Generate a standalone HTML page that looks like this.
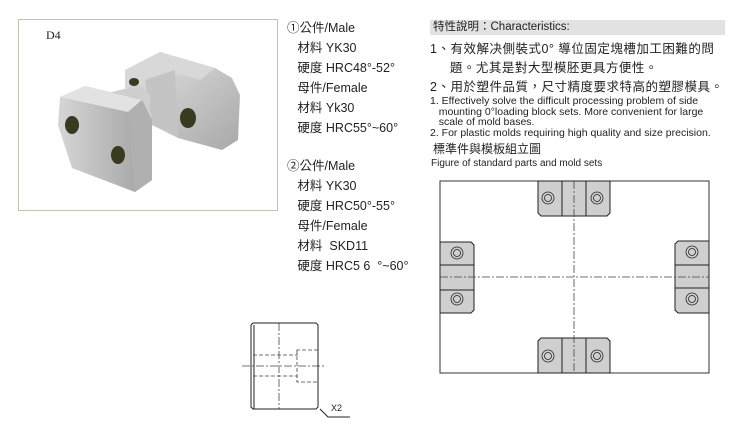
<!DOCTYPE html>
<html><head><meta charset="utf-8"><style>
body{margin:0;width:735px;height:432px;background:#fff;position:relative;overflow:hidden;font-family:"Liberation Sans","Noto Sans CJK TC",sans-serif;color:#222}
.t{position:absolute;white-space:nowrap}
.l{font-size:12.5px;line-height:20px}
</style></head><body>
<div class="t" style="left:18px;top:19px;width:258px;height:190px;border:1px solid #c9bfae"></div>
<div class="t" style="left:46px;top:28px;font-family:'Liberation Serif',serif;font-size:12px">D4</div>
<svg class="t" style="left:0;top:0" width="300" height="220">
<defs><linearGradient id="g" x1="0" y1="0" x2="1" y2="1"><stop offset="0" stop-color="#e4e4e4"/><stop offset="1" stop-color="#a8a8a8"/></linearGradient>
<linearGradient id="g2" x1="0" y1="0" x2="1" y2="0"><stop offset="0" stop-color="#d6d6d6"/><stop offset="1" stop-color="#a0a0a0"/></linearGradient></defs>
<!-- right block -->
<polygon points="125,70 160,52 215,68 232,78 240,95 238,140 222,150 178,138 175,105 150,96 125,88" fill="url(#g)"/>
<polygon points="125,70 160,52 215,68 200,80 180,74 150,85 125,88" fill="#d8d8d8"/>
<polygon points="145,80 175,70 178,138 152,125" fill="#c4c4c4"/>
<!-- bridge -->
<polygon points="100,95 140,85 150,95 150,120 130,112 110,105" fill="#cfcfcf"/>
<!-- left block -->
<polygon points="60,97 85,86 142,100 152,120 152,180 135,192 72,168 58,125" fill="url(#g2)"/>
<polygon points="60,97 85,86 142,100 128,112" fill="#e2e2e2"/>
<polygon points="128,112 142,100 152,120 152,180 135,192" fill="#b0b0b0"/>
<ellipse cx="72" cy="125" rx="7" ry="9" fill="#3a3a20"/>
<ellipse cx="118" cy="155" rx="7" ry="9" fill="#3a3a20"/>
<ellipse cx="188" cy="118" rx="8" ry="10" fill="#3a3a20"/>
<ellipse cx="134" cy="82" rx="5" ry="4" fill="#3a3a20"/>
</svg>
<div class="t l" style="left:287px;top:18px">①公件/Male<br>&nbsp;&nbsp;&nbsp;材料 YK30<br>&nbsp;&nbsp;&nbsp;硬度 HRC48°-52°<br>&nbsp;&nbsp;&nbsp;母件/Female<br>&nbsp;&nbsp;&nbsp;材料 Yk30<br>&nbsp;&nbsp;&nbsp;硬度 HRC55°~60°</div>
<div class="t l" style="left:287px;top:156px">②公件/Male<br>&nbsp;&nbsp;&nbsp;材料 YK30<br>&nbsp;&nbsp;&nbsp;硬度 HRC50°-55°<br>&nbsp;&nbsp;&nbsp;母件/Female<br>&nbsp;&nbsp;&nbsp;材料 &nbsp;SKD11<br>&nbsp;&nbsp;&nbsp;硬度 HRC5 6 &nbsp;°~60°</div>
<div class="t" style="left:430px;top:20px;width:292px;height:15px;background:#e2e2e2;font-size:11.5px;line-height:15px;padding-left:3px">特性說明：Characteristics:</div>
<div class="t" style="left:430px;top:40px;font-size:12.5px;line-height:19px;letter-spacing:0.5px">1、有效解决側裝式0° 導位固定塊槽加工困難的問<br>&nbsp;&nbsp;&nbsp;&nbsp;&nbsp;題。尤其是對大型模胚更具方便性。<br>2、用於塑件品質，尺寸精度要求特高的塑膠模具。</div>
<div class="t" style="left:430px;top:96px;font-size:10.5px;line-height:10.5px">1. Effectively solve the difficult processing problem of side<br>&nbsp;&nbsp;&nbsp;mounting 0°loading block sets. More convenient for large<br>&nbsp;&nbsp;&nbsp;scale of mold bases.<br>2. For plastic molds requiring high quality and size precision.</div>
<div class="t" style="left:433px;top:140px;font-size:12px">標準件與模板組立圖</div>
<div class="t" style="left:431px;top:158px;font-size:10px">Figure of standard parts and mold sets</div>
<svg class="t" style="left:0;top:0" width="735" height="432" fill="none" stroke="#333">
<rect x="440" y="181" width="269" height="192" stroke-width="1"/>
<g fill="#cfcfcf" stroke="#222" stroke-width="1">
<path d="M538,181 H610 V213 l-3,3 H541 l-3,-3 Z"/>
<path d="M538,373 H610 V341 l-3,-3 H541 l-3,3 Z"/>
<path d="M440,242 H471 l3,3 V310 l-3,3 H440 Z"/>
<path d="M709,241 H678 l-3,3 V310 l3,3 H709 Z"/>
</g>
<g stroke="#222" stroke-width="1">
<line x1="562" y1="181" x2="562" y2="216"/><line x1="586" y1="181" x2="586" y2="216"/>
<line x1="562" y1="338" x2="562" y2="373"/><line x1="586" y1="338" x2="586" y2="373"/>
<line x1="440" y1="265" x2="474" y2="265"/><line x1="440" y1="290" x2="474" y2="290"/>
<line x1="675" y1="265" x2="709" y2="265"/><line x1="675" y1="288" x2="709" y2="288"/>
</g>
<g stroke="#222" stroke-width="0.8">
<circle cx="548" cy="198" r="6"/><circle cx="548" cy="198" r="3.5"/>
<circle cx="597" cy="198" r="6"/><circle cx="597" cy="198" r="3.5"/>
<circle cx="548" cy="356" r="6"/><circle cx="548" cy="356" r="3.5"/>
<circle cx="597" cy="356" r="6"/><circle cx="597" cy="356" r="3.5"/>
<circle cx="457" cy="253" r="6"/><circle cx="457" cy="253" r="3.5"/>
<circle cx="457" cy="299" r="6"/><circle cx="457" cy="299" r="3.5"/>
<circle cx="692" cy="252" r="6"/><circle cx="692" cy="252" r="3.5"/>
<circle cx="692" cy="299" r="6"/><circle cx="692" cy="299" r="3.5"/>
</g>
<g stroke="#444" stroke-width="0.8" stroke-dasharray="8,2,2,2">
<line x1="574" y1="181" x2="574" y2="373"/><line x1="440" y1="277" x2="709" y2="277"/>
<line x1="279" y1="323" x2="279" y2="409"/><line x1="242" y1="366" x2="325" y2="366"/>
</g>
<g stroke="#222" stroke-width="1">
<path d="M253,323 H316 l2,2 V407 l-2,2 H253 l-2,-2 V325 Z"/>
<line x1="254" y1="325" x2="254" y2="409"/>
<path d="M320,409 l8,8 H350"/>
</g>
<g stroke="#444" stroke-width="0.8" stroke-dasharray="4,2">
<path d="M253,355 H297 V350 H318"/><path d="M253,376 H297 V382 H318"/><line x1="297" y1="350" x2="297" y2="382"/>
</g>
</svg>
<div class="t" style="left:331px;top:403px;font-size:9px">X2</div>
</body></html>
